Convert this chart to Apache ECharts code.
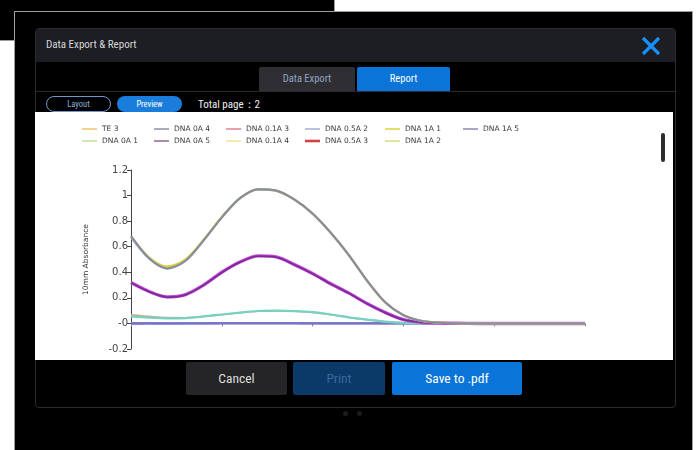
<!DOCTYPE html>
<html>
<head>
<meta charset="utf-8">
<script src="https://cdn.jsdelivr.net/npm/echarts@6/dist/echarts.min.js"></script>
<style>
  html, body { margin:0; padding:0; }
  body { width:697px; height:450px; background:#fff; position:relative; overflow:hidden;
         font-family:"Roboto Condensed","Liberation Sans Narrow","DejaVu Sans",sans-serif; }
  .abs { position:absolute; box-sizing:border-box; }
  .nar { display:inline-block; }
  #bg1 { left:0; top:0; width:335px; height:41px; background:#000; border:1px solid #9a9a9a; border-left:none; border-top:none; }
  #bg2 { left:14px; top:11px; width:679px; height:445px; background:#000; border:1px solid #a0a0a0; }
  #dlg { left:35px; top:28px; width:641px; height:380px; background:#000; border:1px solid #2c2c30; border-radius:4px; overflow:hidden; }
  #hdr { left:0; top:0; width:100%; height:33px; background:#1d1d24; }
  #title { left:10px; top:9px; color:#d8d8d8; font-size:11px; }
  #close { left:604px; top:6px; width:22px; height:22px; }
  .tab { top:38px; height:24px; font-size:10.5px; text-align:center; line-height:24px; border-radius:2px 2px 0 0; }
  #tab1 { left:223px; width:96px; background:#2f2f33; color:#8fa6c4; }
  #tab2 { left:321px; width:93px; background:#0b74d8; color:#fff; }
  #sep { left:0; top:62px; width:100%; height:1px; background:#2a2a2e; }
  .pill { top:67px; height:16px; border-radius:8px; font-size:8.5px; text-align:center; line-height:14px; }
  #layout { left:10px; width:65px; border:1.2px solid #6f98cc; color:#8eb1dc; }
  #preview { left:81px; width:65px; background:#1a7ddc; color:#fff; line-height:16px; }
  #total { left:162px; top:68px; color:#f0f0f0; font-size:11px; }
  #page { left:35px; top:112px; width:638px; height:248px; background:#fff; }
  #chart { left:0; top:0; width:638px; height:248px; }
  #scroll { left:626px; top:21px; width:4px; height:29px; background:#2e2e2e; border-radius:2px; }
  .btn { top:362px; height:33px; font-size:13.5px; text-align:center; line-height:33px; border-radius:2px; }
  #cancel { left:186px; width:101px; background:#252527; color:#dcdcdc; }
  #print { left:293px; width:92px; background:#0b3968; color:#3b6898; }
  #save { left:392px; width:130px; background:#0b74d8; color:#fff; }
  .dot { top:411px; width:5px; height:5px; border-radius:3px; background:#1c1c1f; }
</style>
</head>
<body>
<div id="bg1" class="abs"></div>
<div id="bg2" class="abs"></div>
<div id="dlg" class="abs">
  <div id="hdr" class="abs"></div>
  <div id="title" class="abs nar">Data Export &amp; Report</div>
  <svg id="close" class="abs" viewBox="0 0 22 22"><line x1="3" y1="3" x2="19" y2="19" stroke="#1a8fff" stroke-width="3.2"/><line x1="19" y1="3" x2="3" y2="19" stroke="#1a8fff" stroke-width="3.2"/></svg>
  <div id="tab1" class="abs tab"><span class="nar">Data Export</span></div>
  <div id="tab2" class="abs tab"><span class="nar">Report</span></div>
  <div id="sep" class="abs"></div>
  <div id="layout" class="abs pill"><span class="nar">Layout</span></div>
  <div id="preview" class="abs pill"><span class="nar">Preview</span></div>
  <div id="total" class="abs nar">Total page：2</div>
</div>
<div id="page" class="abs">
  <div id="chart" class="abs"></div>
  <div id="scroll" class="abs"></div>
</div>
<div id="cancel" class="abs btn"><span class="nar">Cancel</span></div>
<div id="print" class="abs btn"><span class="nar">Print</span></div>
<div id="save" class="abs btn"><span class="nar">Save to .pdf</span></div>
<div class="abs dot" style="left:343px"></div>
<div class="abs dot" style="left:357px"></div>

<script>
// Wavelengths (nm)
const wavelengths = [225,230,235,240,245,250,255,260,265,270,275,280,285,290,295,300,305,310,315,320,325,330,335,340,345,350];
// Y tick labels as printed on the reference
const yTickLabels = ['-0.2','-0','0.2','0.4','0.6','0.8','1','1.2'];

// Series values (absorbance)
const te3   = [0.002,0.002,0.001,0.001,0.001,0.002,0.002,0.002,0.002,0.002,0.001,0.001,0.001,0.001,0,0,0,0,0,0,0,0,0,0,0,0];
const dna0A1= [0.001,0.001,0.001,0.001,0.001,0.001,0.001,0.001,0.001,0.001,0.001,0.001,0,0,0,0,0,0,0,0,0,0,0,0,0,0];
const dna0A4= [-0.004,-0.002,-0.001,0,0,0,0,0,0,0,0,0,0,0,0,0,0,0,0,0,0,0,0,0,0,0];
const dna0A5= [0,0,0,0,0,0,0,0,0,0,0,0,0,0,0,0,0,0,0,0,0,0,0,0,0,0];
const dna01A3=[0.068,0.055,0.046,0.045,0.055,0.068,0.083,0.095,0.098,0.095,0.086,0.068,0.047,0.029,0.013,0.005,0.002,0.001,0,0,0,0,0,0,0,0];
const dna01A4=[0.055,0.045,0.040,0.042,0.055,0.070,0.085,0.097,0.100,0.097,0.088,0.070,0.048,0.030,0.014,0.005,0.002,0.001,0,0,0,0,0,0,0,0];
const dna05A2=[0.32,0.25,0.207,0.225,0.30,0.40,0.48,0.528,0.52,0.46,0.39,0.31,0.237,0.155,0.085,0.03,0.009,0.003,0.001,0,0,0,0,0,0,0];
const dna05A3=[0.318,0.249,0.206,0.224,0.299,0.399,0.479,0.527,0.519,0.459,0.389,0.309,0.236,0.154,0.084,0.029,0.009,0.003,0.001,0,0,0,0,0,0,0];
const dna1A1= [0.68,0.515,0.445,0.50,0.655,0.832,0.98,1.048,1.038,0.968,0.858,0.708,0.533,0.333,0.164,0.064,0.02,0.006,0.001,0,0,0,0,0,0,0];
const dna1A2= [0.675,0.505,0.428,0.488,0.648,0.828,0.978,1.048,1.038,0.968,0.858,0.708,0.533,0.333,0.164,0.064,0.02,0.006,0.001,0,0,0,0,0,0,0];
const dna1A5= [0.685,0.51,0.43,0.49,0.65,0.83,0.98,1.05,1.04,0.97,0.86,0.71,0.535,0.335,0.165,0.065,0.02,0.006,0.001,0,0,0,0,0,0,0];

const seriesDefs = [
  {name:'TE 3',       data:te3,    color:'#7070cc', width:1.8, legend:'#f0c060'},
  {name:'DNA 0A 1',   data:dna0A1, color:'#7474c8', width:1.8, legend:'#c4da94'},
  {name:'DNA 0A 4',   data:dna0A4, color:'#5a86d8', width:1.8, legend:'#8484a4'},
  {name:'DNA 0A 5',   data:dna0A5, color:'#7a70c8', width:1.8, legend:'#8c5a8c'},
  {name:'DNA 0.1A 3', data:dna01A3,color:'#d8a088', width:1.6, legend:'#e07888'},
  {name:'DNA 0.1A 4', data:dna01A4,color:'#74d2c2', width:2.2, legend:'#f0e28a'},
  {name:'DNA 0.5A 2', data:dna05A2,color:'#cc4ed8', width:3.4, legend:'#a4a4d4'},
  {name:'DNA 0.5A 3', data:dna05A3,color:'#7a2c9c', width:1.8, legend:'#d04444', lw:2.6},
  {name:'DNA 1A 1',   data:dna1A1, color:'#dcd040', width:2.4, legend:'#d8d030'},
  {name:'DNA 1A 2',   data:dna1A2, color:'#8cb0e0', width:2.0, legend:'#c8e070'},
  {name:'DNA 1A 5',   data:dna1A5, color:'#8c8c98', width:2.0, legend:'#8282aa'}
];

// legend grid: [name, left, top]
const legendSlots = [
  ['TE 3',47,12],['DNA 0A 4',119,12],['DNA 0.1A 3',191,12],['DNA 0.5A 2',270,12],['DNA 1A 1',350,12],['DNA 1A 5',428,12],
  ['DNA 0A 1',47,24],['DNA 0A 5',119,24],['DNA 0.1A 4',191,24],['DNA 0.5A 3',270,24],['DNA 1A 2',350,24]
];

const chart = echarts.init(document.getElementById('chart'), null, {renderer:'canvas'});
const byName = {};
seriesDefs.forEach(s => byName[s.name] = s);

const option = {
  animation:false,
  backgroundColor:'#fff',
  textStyle:{fontFamily:'DejaVu Sans'},
  legend: legendSlots.map(([n,l,t]) => {
    const lw = byName[n].lw || 1.4;
    return {
      data:[{name:n, icon:'rect', itemStyle:{color:byName[n].legend, borderWidth:0}}],
      left:l, top:t, padding:0, itemWidth:15, itemHeight:lw, selectedMode:false,
      textStyle:{fontFamily:'DejaVu Sans', fontSize:7.5, color:'#3a3a3a', lineHeight:10}
    };
  }),
  grid:{left:96, right:88, top:58, bottom:11, containLabel:false},
  xAxis:{
    type:'value', min:225, max:350, interval:25,
    axisLine:{show:true, lineStyle:{color:'#8a8a8a', width:1}},
    axisTick:{show:true, length:3, lineStyle:{color:'#8a8a8a'}},
    axisLabel:{show:false},
    splitLine:{show:false}
  },
  yAxis:{
    type:'value', min:-0.2, max:1.2, interval:0.2,
    name:'10mm Absorbance', nameLocation:'middle', nameGap:41, nameRotate:90,
    nameTextStyle:{fontFamily:'DejaVu Sans', fontSize:7.5, color:'#333'},
    axisLine:{show:true, lineStyle:{color:'#444', width:1}},
    axisTick:{show:true, length:4, lineStyle:{color:'#444'}},
    axisLabel:{fontFamily:'DejaVu Sans', fontSize:10, color:'#444', margin:3,
      formatter: v => yTickLabels[Math.round((v + 0.2) / 0.2)]},
    splitLine:{show:false}
  },
  series: seriesDefs.map(s => ({
    name:s.name, type:'line', smooth:0.3, symbol:'none',
    data: wavelengths.map((w,i) => [w, s.data[i]]),
    lineStyle:{color:s.color, width:s.width},
    itemStyle:{color:s.color}
  }))
};
chart.setOption(option);
</script>
</body>
</html>
